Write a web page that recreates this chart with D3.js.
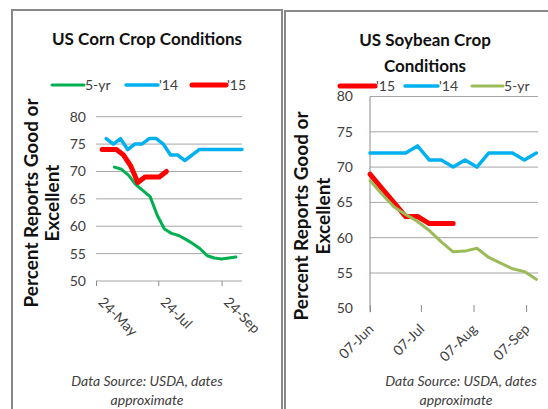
<!DOCTYPE html>
<html>
<head>
<meta charset="utf-8">
<script src="https://cdn.jsdelivr.net/npm/d3@7"></script>
<style>
  body { margin: 0; background: #fff; }
  text { font-family: Lato, "Open Sans", sans-serif; }
</style>
</head>
<body>
<div id="chart"></div>
<script>
// ---- corn (left panel) ----
const cornDates5yr = ["2015-06-11","2015-06-18","2015-06-25","2015-07-02","2015-07-09","2015-07-16","2015-07-23","2015-07-30","2015-08-06","2015-08-13","2015-08-20","2015-08-27","2015-09-03","2015-09-10","2015-09-17","2015-09-24","2015-10-01","2015-10-08"];
const cornValues5yr = [70.8, 70.4, 69.3, 67.6, 66.5, 65.4, 62.0, 59.5, 58.7, 58.3, 57.6, 56.8, 55.9, 54.6, 54.2, 54.0, 54.2, 54.4];
const cornDates14 = ["2015-06-03","2015-06-10","2015-06-17","2015-06-24","2015-07-01","2015-07-08","2015-07-15","2015-07-22","2015-07-29","2015-08-05","2015-08-12","2015-08-19","2015-08-26","2015-09-02","2015-09-09","2015-09-16","2015-09-23","2015-09-30","2015-10-07","2015-10-14"];
const cornValues14 = [76, 75, 76, 74, 75, 75, 76, 76, 75, 73, 73, 72, 73, 74, 74, 74, 74, 74, 74, 74];
const cornDates15 = ["2015-05-30","2015-06-06","2015-06-13","2015-06-20","2015-06-27","2015-07-04","2015-07-11","2015-07-18","2015-07-25","2015-08-01"];
const cornValues15 = [74, 74, 74, 73, 71, 68, 69, 69, 69, 70];
const cornTicks = ["2015-05-24","2015-07-24","2015-09-24"];

// ---- soybean (right panel) ----
const soyDates15 = ["2015-06-07","2015-06-14","2015-06-21","2015-06-28","2015-07-05","2015-07-12","2015-07-19","2015-07-26"];
const soyValues15 = [69, 67, 65, 63, 63, 62, 62, 62];
const soyDates = ["2015-06-07","2015-06-14","2015-06-21","2015-06-28","2015-07-05","2015-07-12","2015-07-19","2015-07-26","2015-08-02","2015-08-09","2015-08-16","2015-08-23","2015-08-30","2015-09-06","2015-09-13"];
const soyValues14 = [72, 72, 72, 72, 73, 71, 71, 70, 71, 70, 72, 72, 72, 71, 72];
const soyValues5yr = [68.1, 66.2, 64.4, 63.3, 62.3, 61.0, 59.4, 58.0, 58.1, 58.5, 57.2, 56.4, 55.6, 55.2, 54.1];
const soyTicks = ["2015-06-07","2015-07-07","2015-08-07","2015-09-07"];

const yTicks = [50, 55, 60, 65, 70, 75, 80];

const parse = d3.timeParse("%Y-%m-%d");
const fmt = d3.timeFormat("%d-%b");
const zip = (dates, vals) => dates.map((d, i) => ({date: parse(d), value: vals[i]}));

const svg = d3.select("#chart").append("svg")
    .attr("width", 548)
    .attr("height", 409);

function drawPanel(p) {
    const g = svg.append("g");

    // panel border
    g.append("rect")
        .attr("x", p.box[0]).attr("y", p.box[1])
        .attr("width", p.box[2]).attr("height", p.box[3])
        .attr("fill", "none")
        .attr("stroke", "#898989")
        .attr("stroke-width", 2);

    const x = d3.scaleTime().domain(p.xDomain.map(parse)).range(p.xRange);
    const y = d3.scaleLinear().domain([50, 80]).range(p.yRange);

    // gridlines
    g.append("g").selectAll("line")
        .data(p.grid)
        .enter().append("line")
        .attr("x1", p.xRange[0]).attr("x2", p.xRange[1])
        .attr("y1", d => y(d)).attr("y2", d => y(d))
        .attr("stroke", "#a6a6a6")
        .attr("stroke-width", 1);

    // y axis
    const yAxis = g.append("g")
        .attr("transform", `translate(${p.xRange[0]},0)`)
        .call(d3.axisLeft(y).tickValues(yTicks).tickSize(0).tickPadding(p.yPad));
    yAxis.select(".domain").attr("stroke", p.yLine ? "#8c8c8c" : "none")
        .attr("d", `M0,${p.yRange[1]}V${p.yRange[0] + 4}`);
    yAxis.selectAll("text")
        .attr("fill", "#404040")
        .style("font-size", "14px")
        .style("font-family", "Lato, sans-serif");

    // x axis (ticks only)
    const xAxis = g.append("g")
        .attr("transform", `translate(0,${p.xAxisY})`)
        .call(d3.axisBottom(x).tickValues(p.ticks.map(parse)).tickSize(p.tickLen).tickFormat(fmt));
    xAxis.select(".domain").remove();
    xAxis.selectAll("line").attr("stroke", "#8c8c8c");
    xAxis.selectAll("text")
        .attr("y", 0).attr("dy", 0)
        .attr("transform", p.labelTransform)
        .attr("text-anchor", p.labelAnchor)
        .attr("fill", "#404040")
        .style("font-size", "14px")
        .style("font-family", "Lato, sans-serif");

    // series
    const line = d3.line().x(d => x(d.date)).y(d => y(d.value));
    p.series.forEach(s => {
        g.append("path")
            .datum(s.data)
            .attr("fill", "none")
            .attr("stroke", s.color)
            .attr("stroke-width", s.width)
            .attr("stroke-linejoin", "round")
            .attr("stroke-linecap", "round")
            .attr("d", line);
    });

    // title
    p.title.forEach((t, i) => {
        g.append("text")
            .attr("x", p.titleX).attr("y", p.titleY + i * 26)
            .attr("text-anchor", "middle")
            .style("font-size", "17px")
            .style("font-weight", "bold")
            .attr("fill", "#111")
            .text(t);
    });

    // legend
    p.legend.forEach(l => {
        const s = p.series.find(d => d.name === l.name);
        g.append("line")
            .attr("x1", l.x).attr("x2", l.x + l.len)
            .attr("y1", p.legendY).attr("y2", p.legendY)
            .attr("stroke", s.color)
            .attr("stroke-width", s.width)
            .attr("stroke-linecap", "round");
        g.append("text")
            .attr("x", l.x + l.len + 1).attr("y", p.legendY)
            .attr("dy", "0.35em")
            .attr("fill", "#404040")
            .style("font-size", "14px")
            .text(l.name);
    });

    // y axis title, two lines
    const yt = g.append("text")
        .attr("transform", `translate(${p.yTitleX},${p.yTitleY}) rotate(-90)`)
        .attr("text-anchor", "middle")
        .style("font-size", "19px")
        .style("font-weight", "bold")
        .attr("fill", "#111");
    yt.append("tspan").attr("x", 0).attr("y", 0).text("Percent Reports Good or");
    yt.append("tspan").attr("x", 0).attr("y", p.yTitleGap).text("Excellent");

    // source note
    ["Data Source: USDA, dates", "approximate"].forEach((t, i) => {
        g.append("text")
            .attr("x", p.noteX[i]).attr("y", p.noteY + i * 19)
            .attr("text-anchor", "middle")
            .attr("fill", "#404040")
            .style("font-size", "14px")
            .style("font-style", "italic")
            .text(t);
    });
}

drawPanel({
    box: [12, 10, 270, 420],
    xDomain: ["2015-05-24", "2015-10-14"],
    xRange: [96, 242],
    yRange: [281, 116.7],
    grid: yTicks,
    yPad: 10,
    yLine: false,
    xAxisY: 281,
    tickLen: 5,
    ticks: cornTicks,
    labelTransform: "translate(1,22) rotate(45)",
    labelAnchor: "start",
    series: [
        {name: "5-yr", color: "#00b050", width: 3, data: zip(cornDates5yr, cornValues5yr)},
        {name: "'14", color: "#00b0f0", width: 3.5, data: zip(cornDates14, cornValues14)},
        {name: "'15", color: "#ff0000", width: 5, data: zip(cornDates15, cornValues15)}
    ],
    title: ["US Corn Crop Conditions"],
    titleX: 147, titleY: 45,
    legendY: 85,
    legend: [
        {name: "5-yr", x: 52, len: 32},
        {name: "'14", x: 126, len: 32},
        {name: "'15", x: 192, len: 34}
    ],
    yTitleX: 38, yTitleY: 203, yTitleGap: 21,
    noteX: [147, 147], noteY: 386
});

drawPanel({
    box: [285, 11, 280, 420],
    xDomain: ["2015-06-07", "2015-09-14"],
    xRange: [370, 538],
    yRange: [308.3, 96.5],
    grid: [55, 60, 65, 70, 75, 80],
    yPad: 17,
    yLine: true,
    xAxisY: 305,
    tickLen: 7,
    ticks: soyTicks,
    labelTransform: "translate(4,25) rotate(-45)",
    labelAnchor: "end",
    series: [
        {name: "'15", color: "#ff0000", width: 5, data: zip(soyDates15, soyValues15)},
        {name: "'14", color: "#00b0f0", width: 3.5, data: zip(soyDates, soyValues14)},
        {name: "5-yr", color: "#9bbb59", width: 3, data: zip(soyDates, soyValues5yr)}
    ],
    title: ["US Soybean Crop", "Conditions"],
    titleX: 425, titleY: 46,
    legendY: 86,
    legend: [
        {name: "'15", x: 340, len: 35},
        {name: "'14", x: 405, len: 33},
        {name: "5-yr", x: 472, len: 31}
    ],
    yTitleX: 308, yTitleY: 216, yTitleGap: 22,
    noteX: [461, 456], noteY: 386
});
</script>
</body>
</html>
